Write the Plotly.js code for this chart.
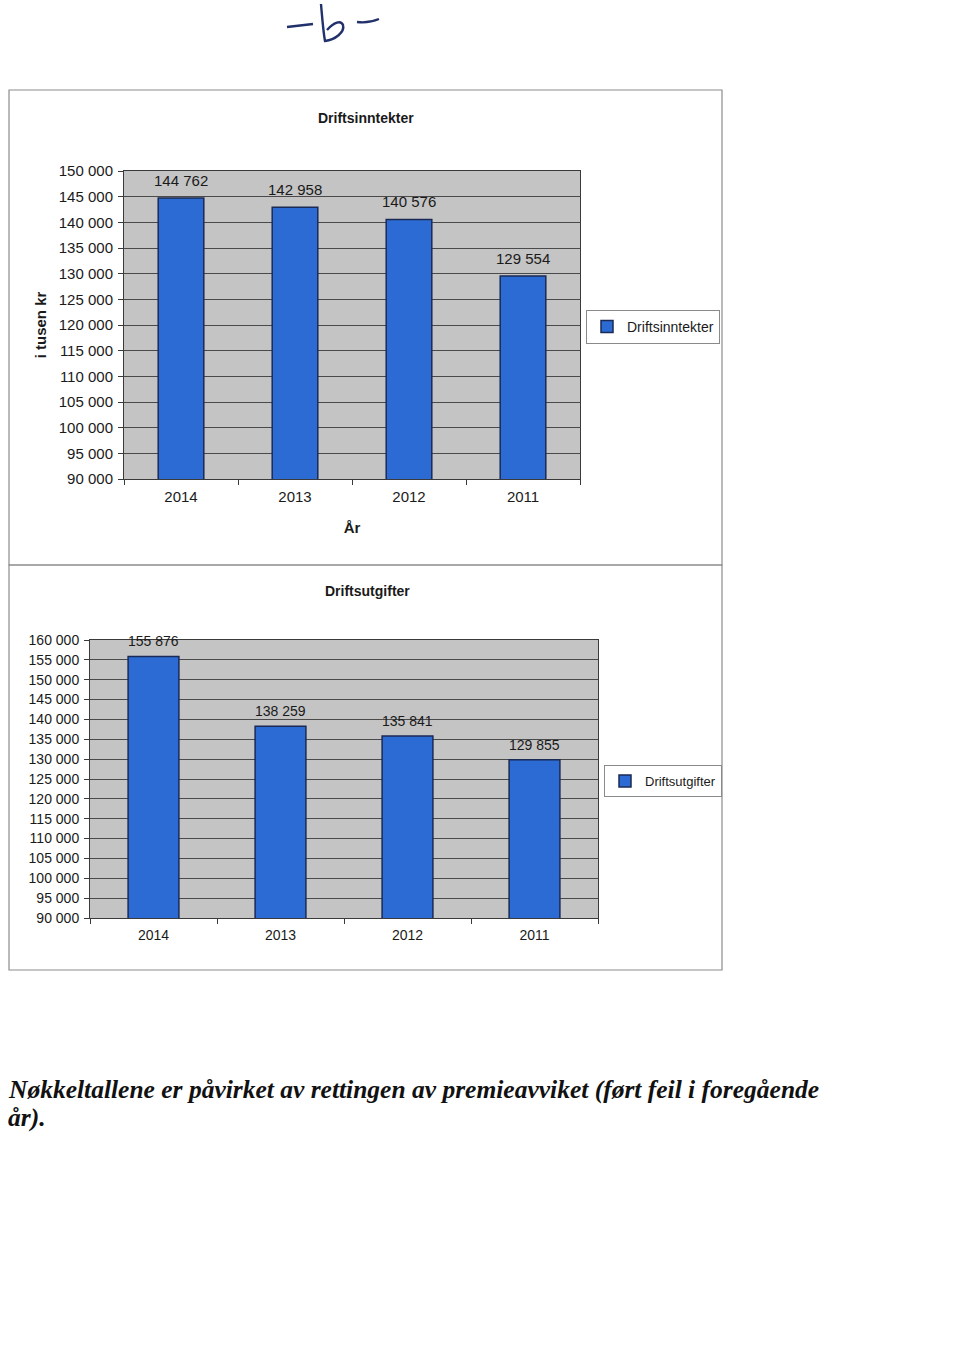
<!DOCTYPE html>
<html>
<head>
<meta charset="utf-8">
<script src="https://cdn.plot.ly/plotly-3.0.1.min.js"></script>
<style>
html,body{margin:0;padding:0;background:#fff;}
#chart{width:960px;height:1357px;}
</style>
</head>
<body>
<div id="chart"></div>
<script>
// ---- data ----
const years = ['2014', '2013', '2012', '2011'];
const inntekter = [144762, 142958, 140576, 129554];
const utgifter = [155876, 138259, 135841, 129855];
const title1 = 'Driftsinntekter';
const title2 = 'Driftsutgifter';
const yTitle1 = 'i tusen kr';
const xTitle1 = 'År';
const noteLine1 = 'Nøkkeltallene er påvirket av rettingen av premieavviket (ført feil i foregående';
const noteLine2 = 'år).';

// ---- helpers (page pixels -> paper) ----
const W = 960, H = 1357;
const px = x => x / W;
const py = y => 1 - y / H;
function pathPx(cmds) {
  return cmds.map(c => {
    const l = c[0];
    const nums = [];
    for (let i = 1; i < c.length; i += 2) nums.push(px(c[i]).toFixed(5) + ',' + py(c[i + 1]).toFixed(5));
    return l + nums.join(' ');
  }).join(' ');
}
const fmt = v => String(v).replace(/\B(?=(\d{3})+(?!\d))/g, ' ');

const FONT = 'Liberation Sans, Arial, sans-serif';
const barColor = '#2b6bd3';
const barLine = '#1b2a55';

const traces = [
  {
    type: 'bar', x: years, y: inntekter, name: title1,
    xaxis: 'x', yaxis: 'y', legend: 'legend',
    marker: {color: barColor, line: {color: barLine, width: 1.5}},
    hoverinfo: 'skip'
  },
  {
    type: 'bar', x: years, y: utgifter, name: title2,
    xaxis: 'x2', yaxis: 'y2', legend: 'legend2',
    marker: {color: barColor, line: {color: barLine, width: 1.5}},
    hoverinfo: 'skip'
  }
];

const axisCommon = {
  showline: true, linecolor: '#3a3a3a', linewidth: 1, mirror: true,
  ticks: 'outside', ticklen: 5, tickcolor: '#3a3a3a',
  color: '#1a1a1a'
};

const hand = pathPx([
  ['M', 287, 27], ['C', 295, 26, 305, 25, 313, 24]
]);
const handB = pathPx([
  ['M', 321, 4], ['C', 322, 15, 323, 30, 325, 41],
  ['C', 335, 40, 345, 32, 343, 25],
  ['C', 341, 20, 334, 22, 327, 30]
]);
const handR = pathPx([
  ['M', 357, 22], ['C', 365, 23, 372, 22, 379, 19]
]);

// value labels, placed via the axes' own scales (category index on x)
const valueLabels = [];
years.forEach((yr, i) => {
  valueLabels.push({text: fmt(inntekter[i]), x: i, y: inntekter[i], xref: 'x', yref: 'y',
    showarrow: false, xanchor: 'center', yanchor: 'bottom', yshift: 7,
    font: {size: 15, color: '#1a1a1a'}});
  valueLabels.push({text: fmt(utgifter[i]), x: i, y: utgifter[i], xref: 'x2', yref: 'y2',
    showarrow: false, xanchor: 'center', yanchor: 'bottom', yshift: 5,
    font: {size: 14, color: '#1a1a1a'}});
});

const noteFont = {family: 'Liberation Serif, Times New Roman, serif', size: 25.5, weight: 'bold', style: 'italic', color: '#111'};

const layout = {
  width: W, height: H,
  margin: {l: 0, r: 0, t: 0, b: 0},
  paper_bgcolor: '#ffffff',
  plot_bgcolor: '#c4c4c4',
  separators: ', ',
  bargap: 0.6,
  font: {family: FONT, color: '#1a1a1a'},
  showlegend: true,
  xaxis: Object.assign({}, axisCommon, {
    domain: [px(124), px(580)], anchor: 'y', type: 'category',
    categoryorder: 'array', categoryarray: years,
    range: [-0.5, years.length - 0.5], autorange: false,
    tickson: 'boundaries', showgrid: false, tickangle: 0,
    tickfont: {size: 15}, ticklabelstandoff: 4,
    title: {text: xTitle1, font: {size: 15, weight: 'bold'}, standoff: 18}
  }),
  yaxis: Object.assign({}, axisCommon, {
    domain: [py(479), py(171)], anchor: 'x',
    range: [90000, 150000], autorange: false, dtick: 5000, tickformat: ',',
    showgrid: true, gridcolor: '#4a4a4a', gridwidth: 1,
    tickfont: {size: 15}, ticklabelstandoff: 2,
    title: {text: yTitle1, font: {size: 15, weight: 'bold'}, standoff: 8}
  }),
  xaxis2: Object.assign({}, axisCommon, {
    domain: [px(90), px(598)], anchor: 'y2', type: 'category',
    categoryorder: 'array', categoryarray: years,
    range: [-0.5, years.length - 0.5], autorange: false,
    tickson: 'boundaries', showgrid: false, tickangle: 0,
    tickfont: {size: 14}, ticklabelstandoff: 4
  }),
  yaxis2: Object.assign({}, axisCommon, {
    domain: [py(918), py(640)], anchor: 'x2',
    range: [90000, 160000], autorange: false, dtick: 5000, tickformat: ',',
    showgrid: true, gridcolor: '#4a4a4a', gridwidth: 1,
    tickfont: {size: 14}, ticklabelstandoff: 2
  }),
  legend: {
    x: px(586), y: py(310), xanchor: 'left', yanchor: 'top',
    bgcolor: '#ffffff', bordercolor: '#8a8a8a', borderwidth: 1,
    font: {size: 14}, itemwidth: 30
  },
  legend2: {
    x: px(604), y: py(765), xanchor: 'left', yanchor: 'top',
    bgcolor: '#ffffff', bordercolor: '#8a8a8a', borderwidth: 1,
    font: {size: 13}, itemwidth: 30
  },
  annotations: [
    {text: '<b>' + title1 + '</b>', x: px(366), y: py(118), xref: 'paper', yref: 'paper',
     showarrow: false, xanchor: 'center', yanchor: 'middle', font: {size: 14}},
    {text: '<b>' + title2 + '</b>', x: px(367), y: py(591), xref: 'paper', yref: 'paper',
     showarrow: false, xanchor: 'center', yanchor: 'middle', font: {size: 14}},
    {text: noteLine1, x: px(6), y: py(1089), xref: 'paper', yref: 'paper',
     showarrow: false, xanchor: 'left', yanchor: 'middle', font: noteFont},
    {text: noteLine2, x: px(6), y: py(1117), xref: 'paper', yref: 'paper',
     showarrow: false, xanchor: 'left', yanchor: 'middle', font: noteFont}
  ].concat(valueLabels),
  shapes: [
    {type: 'rect', xref: 'paper', yref: 'paper', x0: px(9), x1: px(722), y0: py(565), y1: py(90),
     line: {color: '#8c8c8c', width: 1.2}, layer: 'below'},
    {type: 'rect', xref: 'paper', yref: 'paper', x0: px(9), x1: px(722), y0: py(970), y1: py(565),
     line: {color: '#8c8c8c', width: 1.2}, layer: 'below'},
    {type: 'path', xref: 'paper', yref: 'paper', path: hand, line: {color: '#22306b', width: 2.4}},
    {type: 'path', xref: 'paper', yref: 'paper', path: handB, line: {color: '#22306b', width: 2.4}},
    {type: 'path', xref: 'paper', yref: 'paper', path: handR, line: {color: '#22306b', width: 2.4}}
  ]
};

Plotly.newPlot('chart', traces, layout, {staticPlot: true, displayModeBar: false});
</script>
</body>
</html>
